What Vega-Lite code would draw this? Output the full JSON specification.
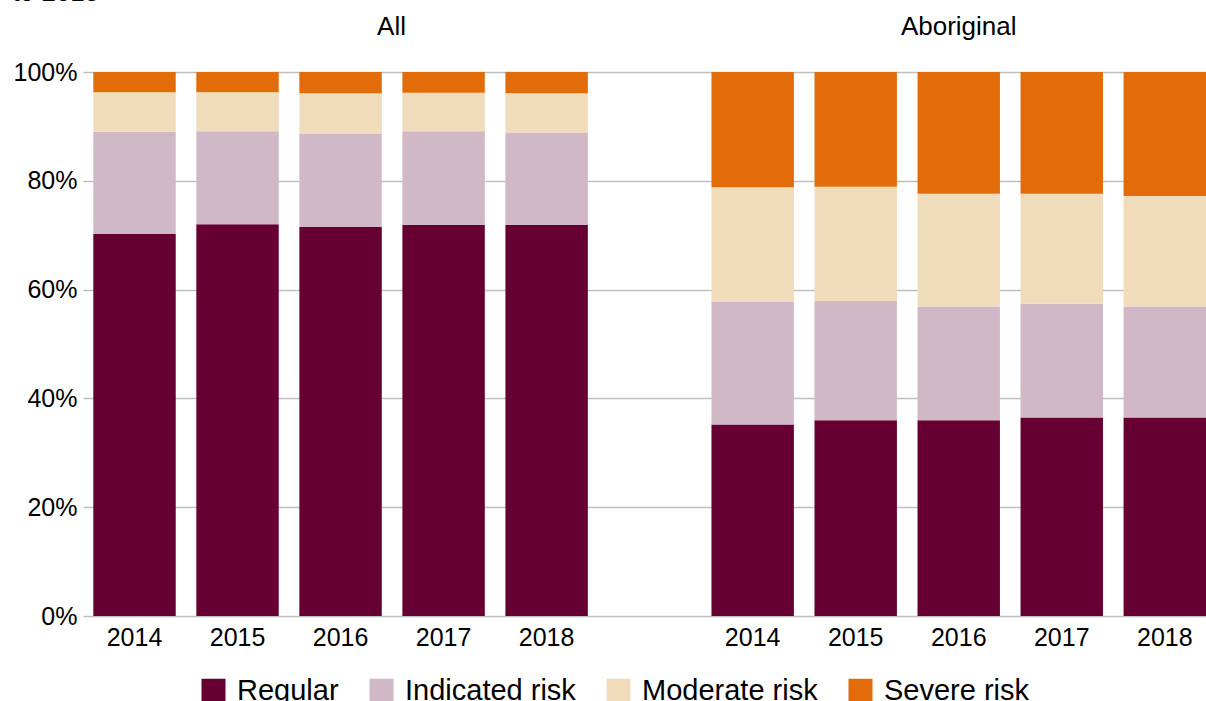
{
  "$schema": "https://vega.github.io/schema/vega-lite/v6.json",
  "autosize": {"type": "none"},
  "width": 1123,
  "height": 544,
  "padding": {"left": 83, "top": 72, "right": 0, "bottom": 85},
  "background": "white",
  "config": {"font": "Liberation Sans", "view": {"stroke": null}},
  "datasets": {
    "bars": [
      {"bar": "All 2014", "cat": "Regular", "pct": 70.2},
      {"bar": "All 2014", "cat": "Indicated risk", "pct": 18.8},
      {"bar": "All 2014", "cat": "Moderate risk", "pct": 7.3},
      {"bar": "All 2014", "cat": "Severe risk", "pct": 3.7},
      {"bar": "All 2015", "cat": "Regular", "pct": 72.0},
      {"bar": "All 2015", "cat": "Indicated risk", "pct": 17.1},
      {"bar": "All 2015", "cat": "Moderate risk", "pct": 7.2},
      {"bar": "All 2015", "cat": "Severe risk", "pct": 3.7},
      {"bar": "All 2016", "cat": "Regular", "pct": 71.5},
      {"bar": "All 2016", "cat": "Indicated risk", "pct": 17.2},
      {"bar": "All 2016", "cat": "Moderate risk", "pct": 7.4},
      {"bar": "All 2016", "cat": "Severe risk", "pct": 3.9},
      {"bar": "All 2017", "cat": "Regular", "pct": 71.9},
      {"bar": "All 2017", "cat": "Indicated risk", "pct": 17.2},
      {"bar": "All 2017", "cat": "Moderate risk", "pct": 7.1},
      {"bar": "All 2017", "cat": "Severe risk", "pct": 3.8},
      {"bar": "All 2018", "cat": "Regular", "pct": 71.9},
      {"bar": "All 2018", "cat": "Indicated risk", "pct": 17.0},
      {"bar": "All 2018", "cat": "Moderate risk", "pct": 7.2},
      {"bar": "All 2018", "cat": "Severe risk", "pct": 3.9},
      {"bar": "Aboriginal 2014", "cat": "Regular", "pct": 35.2},
      {"bar": "Aboriginal 2014", "cat": "Indicated risk", "pct": 22.5},
      {"bar": "Aboriginal 2014", "cat": "Moderate risk", "pct": 21.1},
      {"bar": "Aboriginal 2014", "cat": "Severe risk", "pct": 21.2},
      {"bar": "Aboriginal 2015", "cat": "Regular", "pct": 36.0},
      {"bar": "Aboriginal 2015", "cat": "Indicated risk", "pct": 21.9},
      {"bar": "Aboriginal 2015", "cat": "Moderate risk", "pct": 21.0},
      {"bar": "Aboriginal 2015", "cat": "Severe risk", "pct": 21.1},
      {"bar": "Aboriginal 2016", "cat": "Regular", "pct": 36.0},
      {"bar": "Aboriginal 2016", "cat": "Indicated risk", "pct": 20.9},
      {"bar": "Aboriginal 2016", "cat": "Moderate risk", "pct": 20.7},
      {"bar": "Aboriginal 2016", "cat": "Severe risk", "pct": 22.4},
      {"bar": "Aboriginal 2017", "cat": "Regular", "pct": 36.5},
      {"bar": "Aboriginal 2017", "cat": "Indicated risk", "pct": 20.9},
      {"bar": "Aboriginal 2017", "cat": "Moderate risk", "pct": 20.2},
      {"bar": "Aboriginal 2017", "cat": "Severe risk", "pct": 22.4},
      {"bar": "Aboriginal 2018", "cat": "Regular", "pct": 36.5},
      {"bar": "Aboriginal 2018", "cat": "Indicated risk", "pct": 20.4},
      {"bar": "Aboriginal 2018", "cat": "Moderate risk", "pct": 20.3},
      {"bar": "Aboriginal 2018", "cat": "Severe risk", "pct": 22.8}
    ],
    "headAll": [{"bar": "All 2016", "label": "All"}],
    "headAbo": [{"bar": "Aboriginal 2016", "label": "Aboriginal"}],
    "titleTail": [{"bar": "All 2014", "label": "to 2018"}]
  },
  "encoding": {
    "x": {
      "field": "bar",
      "type": "nominal",
      "scale": {
        "domain": ["All 2014", "All 2015", "All 2016", "All 2017", "All 2018", "gap", "Aboriginal 2014", "Aboriginal 2015", "Aboriginal 2016", "Aboriginal 2017", "Aboriginal 2018"],
        "paddingInner": 0.2,
        "paddingOuter": 0.05,
        "align": 1
      },
      "axis": {
        "title": null,
        "domain": false,
        "ticks": false,
        "labelAngle": 0,
        "labelPadding": 9,
        "labelFontSize": 25,
        "labelColor": "#000000",
        "labelExpr": "datum.value == 'gap' ? '' : slice(datum.value, -4)"
      }
    }
  },
  "layer": [
    {
      "data": {"name": "bars"},
      "transform": [
        {"calculate": "indexof(['Regular', 'Indicated risk', 'Moderate risk', 'Severe risk'], datum.cat)", "as": "stackOrder"}
      ],
      "mark": {"type": "bar"},
      "encoding": {
        "y": {
          "field": "pct",
          "type": "quantitative",
          "stack": "zero",
          "scale": {"domain": [0, 100], "nice": false},
          "axis": {
            "title": null,
            "values": [0, 20, 40, 60, 80, 100],
            "labelExpr": "datum.value + '%'",
            "domain": false,
            "ticks": false,
            "labelPadding": 6,
            "labelFontSize": 25,
            "labelColor": "#000000",
            "gridColor": "#bfbfbf",
            "gridWidth": 1.5
          }
        },
        "order": {"field": "stackOrder", "type": "quantitative", "sort": "ascending"},
        "color": {
          "field": "cat",
          "type": "nominal",
          "sort": ["Regular", "Indicated risk", "Moderate risk", "Severe risk"],
          "scale": {
            "domain": ["Regular", "Indicated risk", "Moderate risk", "Severe risk"],
            "range": ["#660033", "#d0b8c6", "#f0dbbb", "#e36c0a"]
          },
          "legend": {
            "title": null,
            "orient": "none",
            "legendX": 116,
            "legendY": 604,
            "direction": "horizontal",
            "symbolType": "square",
            "symbolSize": 576,
            "symbolStrokeWidth": 0,
            "labelFontSize": 29,
            "labelLimit": 400,
            "labelColor": "#000000",
            "labelOffset": 9,
            "columnPadding": 28,
            "padding": 0
          }
        }
      }
    },
    {
      "data": {"name": "headAll"},
      "mark": {"type": "text", "fontSize": 26, "color": "#000000", "baseline": "middle", "dx": 51, "dy": -45},
      "encoding": {"y": {"datum": 100, "type": "quantitative"}, "text": {"field": "label"}}
    },
    {
      "data": {"name": "headAbo"},
      "mark": {"type": "text", "fontSize": 26, "color": "#000000", "baseline": "middle", "dy": -45},
      "encoding": {"y": {"datum": 100, "type": "quantitative"}, "text": {"field": "label"}}
    },
    {
      "data": {"name": "titleTail"},
      "mark": {"type": "text", "fontSize": 26, "color": "#000000", "align": "left", "baseline": "alphabetic", "dx": -122, "dy": -71},
      "encoding": {"y": {"datum": 100, "type": "quantitative"}, "text": {"field": "label"}}
    }
  ]
}
